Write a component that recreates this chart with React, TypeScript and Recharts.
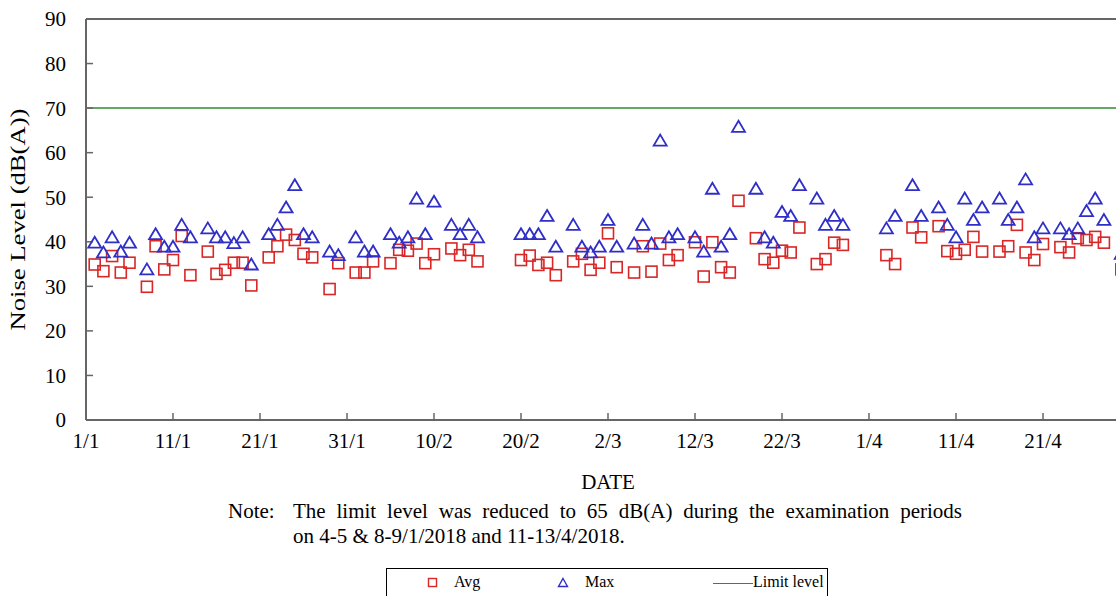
import { ScatterChart, Scatter, XAxis, YAxis, ReferenceLine, Legend } from 'recharts';

// day offset from 1/1/2018 (no reading on Sundays and public holidays)
const days = [
  1, 2, 3, 4, 5, 7, 8, 9, 10, 11, 12, 14, 15, 16, 17, 18, 19, 21, 22, 23, 24, 25, 26,
  28, 29, 31, 32, 33, 35, 36, 37, 38, 39, 40, 42, 43, 44, 45, 50, 51, 52, 53, 54,
  56, 57, 58, 59, 60, 61, 63, 64, 65, 66, 67, 68, 70, 71, 72, 73, 74, 75, 77, 78, 79,
  80, 81, 82, 84, 85, 86, 87, 92, 93, 95, 96, 98, 99, 100, 101, 102, 103, 105, 106,
  107, 108, 109, 110, 112, 113, 114, 115, 116, 117, 119,
];
const avgLevel = [
  34.9, 33.4, 36.8, 33.1, 35.3, 29.9, 39.0, 33.8, 35.9, 41.3, 32.5, 37.8, 32.8, 33.7, 35.3, 35.3, 30.2, 36.5, 39.0, 41.6, 40.4, 37.3, 36.5,
  29.4, 35.2, 33.1, 33.1, 35.6, 35.2, 38.2, 38.0, 39.6, 35.2, 37.2, 38.5, 37.0, 38.2, 35.6, 35.9, 36.9, 34.8, 35.3, 32.5,
  35.6, 37.3, 33.7, 35.3, 41.9, 34.3, 33.1, 39.0, 33.3, 39.6, 35.9, 37.0, 39.9, 32.2, 39.9, 34.3, 33.1, 49.2, 40.8, 36.1, 35.3,
  38.0, 37.6, 43.2, 35.0, 36.1, 39.8, 39.3, 37.0, 35.0, 43.2, 41.0, 43.5, 37.9, 37.3, 38.2, 41.1, 37.8, 37.8, 39.0,
  43.8, 37.6, 35.9, 39.5, 38.8, 37.6, 40.8, 40.4, 41.1, 39.8, 33.8,
];
const maxLevel = [
  39.8, 37.6, 41.0, 37.8, 39.8, 33.8, 41.7, 38.9, 38.9, 43.8, 41.0, 43.0, 41.0, 41.0, 39.7, 41.0, 34.9, 41.7, 43.8, 47.7, 52.7, 41.7, 41.0,
  37.8, 37.0, 41.0, 37.8, 37.8, 41.7, 39.8, 41.0, 49.7, 41.7, 49.0, 43.8, 41.7, 43.8, 41.0, 41.7, 41.7, 41.7, 45.8, 38.9,
  43.8, 38.9, 37.6, 38.9, 44.9, 38.9, 39.6, 43.8, 39.6, 62.7, 41.0, 41.7, 41.0, 37.8, 51.9, 38.9, 41.7, 65.8, 51.9, 41.0, 39.8,
  46.7, 45.8, 52.7, 49.7, 43.8, 45.8, 43.8, 43.0, 45.8, 52.7, 45.8, 47.7, 43.8, 41.0, 49.7, 44.9, 47.7, 49.7, 44.9,
  47.7, 54.0, 41.0, 43.0, 43.0, 41.7, 43.0, 46.9, 49.7, 44.9, 37.3,
];
const tickDays = [0, 10, 20, 30, 40, 50, 60, 70, 80, 90, 100, 110];
const tickLabels = ['1/1', '11/1', '21/1', '31/1', '10/2', '20/2', '2/3', '12/3', '22/3', '1/4', '11/4', '21/4'];
const yTicks = [0, 10, 20, 30, 40, 50, 60, 70, 80, 90];
const limitLevel = 70;

const avgData = days.map((d, i) => ({ day: d, level: avgLevel[i] }));
const maxData = days.map((d, i) => ({ day: d, level: maxLevel[i] }));

const RED = '#d92626';
const BLUE = '#2f2fc8';
const GREEN = '#2e8b2e';
const AXIS = '#666';
const FONT = '"Liberation Serif", "Times New Roman", serif';

const Square = (p: any) => (
  <rect x={p.cx - 5.5} y={p.cy - 5.5} width={11} height={11} fill="none" stroke={RED} strokeWidth={1.6} />
);

const Triangle = (p: any) => (
  <path
    d={`M${p.cx},${p.cy - 6} L${p.cx + 6.5},${p.cy + 5} L${p.cx - 6.5},${p.cy + 5} Z`}
    fill="none"
    stroke={BLUE}
    strokeWidth={1.8}
  />
);

const YLabel = (props: any) => {
  const vb = props.viewBox || {};
  const cy = (vb.y ?? 19) + (vb.height ?? 401) / 2;
  return (
    <text
      x={18}
      y={cy}
      transform={`rotate(-90, 18, ${cy})`}
      textAnchor="middle"
      dominantBaseline="central"
      textLength={222}
      lengthAdjust="spacingAndGlyphs"
      fill="#000"
      fontSize={21}
      fontFamily={FONT}
    >
      Noise Level (dB(A))
    </text>
  );
};

function LegendBox() {
  return (
    <div style={{ position: 'relative', width: 442, height: 40, border: '1px solid #000', boxSizing: 'border-box', fontFamily: FONT, fontSize: 16, color: '#000', background: '#fff' }}>
      <svg style={{ position: 'absolute', left: 40, top: 8 }} width={12} height={12}>
        <rect x={1.5} y={1.5} width={8} height={8} fill="none" stroke={RED} strokeWidth={1.4} />
      </svg>
      <span style={{ position: 'absolute', left: 67, top: 4 }}>Avg</span>
      <svg style={{ position: 'absolute', left: 170, top: 8 }} width={12} height={12}>
        <path d="M6,1.5 L10.5,9.5 L1.5,9.5 Z" fill="none" stroke={BLUE} strokeWidth={1.4} />
      </svg>
      <span style={{ position: 'absolute', left: 198, top: 4 }}>Max</span>
      <div style={{ position: 'absolute', left: 326, top: 14, width: 40, borderTop: `1.5px solid ${GREEN}` }} />
      <span style={{ position: 'absolute', left: 366, top: 4 }}>Limit level</span>
    </div>
  );
}

export default function App() {
  return (
    <div style={{ position: 'absolute', left: 0, top: 0, width: 1116, height: 596, overflow: 'hidden', background: '#fff' }}>
      <ScatterChart width={1130} height={596} margin={{ top: 19, right: 0, bottom: 100, left: 0 }}>
        <XAxis
          type="number"
          dataKey="day"
          domain={[0, 120]}
          ticks={tickDays}
          interval={0}
          tickFormatter={(v: number) => tickLabels[tickDays.indexOf(v)]}
          tickSize={-7}
          tickMargin={20}
          height={76}
          axisLine={{ stroke: AXIS, strokeWidth: 2 }}
          tickLine={{ stroke: AXIS, strokeWidth: 1.5 }}
          tick={{ fill: '#000', fontSize: 21, fontFamily: FONT }}
          label={{ value: 'DATE', position: 'insideBottom', offset: 7, fill: '#000', fontSize: 21, fontFamily: FONT }}
        />
        <YAxis
          type="number"
          dataKey="level"
          domain={[0, 90]}
          ticks={yTicks}
          interval={0}
          width={86}
          tickSize={-7}
          tickMargin={27}
          axisLine={{ stroke: AXIS, strokeWidth: 2 }}
          tickLine={{ stroke: AXIS, strokeWidth: 1.5 }}
          tick={{ fill: '#000', fontSize: 21, fontFamily: FONT }}
          label={{ content: YLabel }}
        />
        <ReferenceLine y={90} stroke={AXIS} strokeWidth={2} />
        <ReferenceLine y={limitLevel} stroke={GREEN} strokeWidth={1.5} />
        <Scatter name="Avg" data={avgData} shape={Square} isAnimationActive={false} />
        <Scatter name="Max" data={maxData} shape={Triangle} isAnimationActive={false} />
        <Legend layout="horizontal" verticalAlign="middle" wrapperStyle={{ left: 386, top: 568, width: 442 }} content={() => <LegendBox />} />
      </ScatterChart>
      <div style={{ position: 'absolute', left: 228, top: 499, fontFamily: FONT, fontSize: 21, lineHeight: '25px', color: '#000' }}>Note:</div>
      <div style={{ position: 'absolute', left: 293, top: 499, width: 669, fontFamily: FONT, fontSize: 21, lineHeight: '25px', color: '#000', textAlign: 'justify', textAlignLast: 'justify' }}>
        The limit level was reduced to 65 dB(A) during the examination periods
      </div>
      <div style={{ position: 'absolute', left: 293, top: 524, fontFamily: FONT, fontSize: 21, lineHeight: '25px', color: '#000' }}>
        on 4-5 &amp; 8-9/1/2018 and 11-13/4/2018.
      </div>
    </div>
  );
}
